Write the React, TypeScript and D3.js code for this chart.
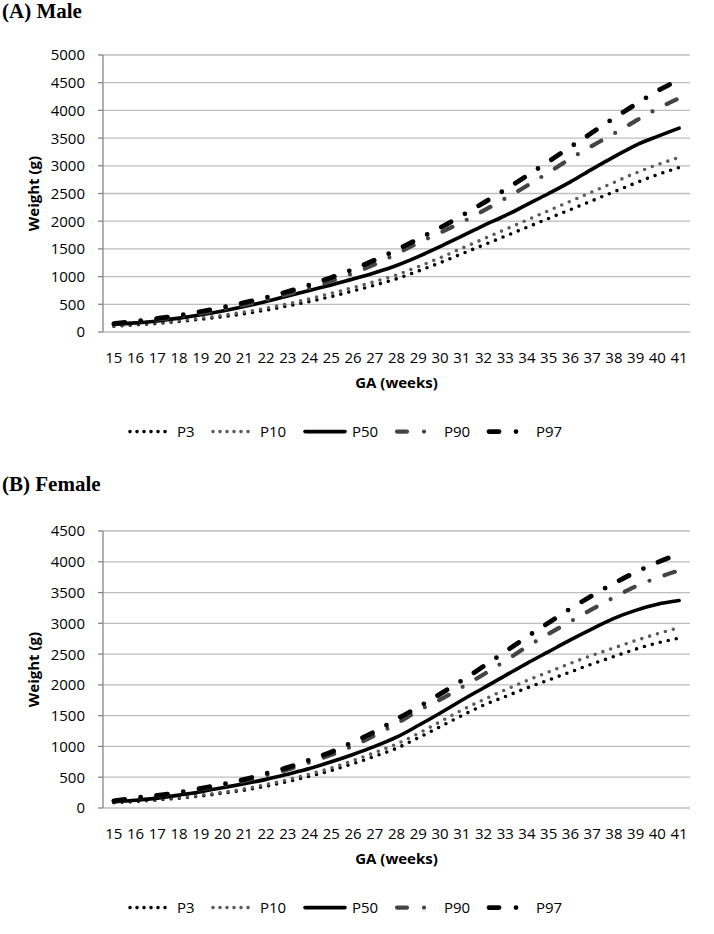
import React from 'react'
import { scalePoint, scaleLinear, line, curveMonotoneX } from 'd3'

// gestational age categories
const weeks = [15, 16, 17, 18, 19, 20, 21, 22, 23, 24, 25, 26, 27, 28, 29, 30, 31, 32, 33, 34, 35, 36, 37, 38, 39, 40, 41]

const maleTicks = [0, 500, 1000, 1500, 2000, 2500, 3000, 3500, 4000, 4500, 5000]
const femaleTicks = [0, 500, 1000, 1500, 2000, 2500, 3000, 3500, 4000, 4500]

const percentileNames = ['P3', 'P10', 'P50', 'P90', 'P97']

// (A) Male, weight in g
const maleP3 = [105, 130, 155, 190, 230, 275, 330, 395, 470, 550, 640, 740, 845, 960, 1100, 1250, 1410, 1570, 1730, 1890, 2050, 2210, 2370, 2530, 2690, 2840, 2970]
const maleP10 = [115, 140, 170, 205, 250, 300, 360, 430, 510, 600, 700, 800, 910, 1030, 1180, 1340, 1510, 1680, 1850, 2020, 2190, 2360, 2530, 2700, 2870, 3020, 3150]
const maleP50 = [140, 165, 200, 250, 310, 380, 460, 550, 650, 750, 850, 955, 1070, 1200, 1360, 1540, 1730, 1920, 2100, 2300, 2500, 2710, 2940, 3160, 3370, 3530, 3680]
const maleP90 = [140, 180, 225, 275, 340, 410, 490, 580, 680, 795, 920, 1060, 1220, 1410, 1610, 1790, 1980, 2190, 2410, 2640, 2880, 3130, 3360, 3580, 3810, 4030, 4220]
const maleP97 = [150, 195, 245, 300, 370, 445, 530, 625, 730, 850, 985, 1130, 1300, 1480, 1680, 1880, 2100, 2330, 2570, 2820, 3080, 3340, 3600, 3860, 4110, 4350, 4550]

// (B) Female, weight in g
const femaleP3 = [85, 105, 130, 160, 195, 240, 290, 355, 430, 515, 610, 720, 840, 970, 1140, 1320, 1500, 1670, 1810, 1950, 2080, 2210, 2340, 2460, 2580, 2680, 2760]
const femaleP10 = [95, 115, 140, 175, 210, 255, 310, 380, 460, 550, 650, 770, 900, 1040, 1210, 1400, 1590, 1760, 1920, 2070, 2210, 2350, 2480, 2600, 2720, 2830, 2930]
const femaleP50 = [100, 125, 160, 210, 265, 330, 395, 465, 550, 640, 750, 870, 1000, 1150, 1340, 1540, 1750, 1950, 2150, 2350, 2540, 2730, 2910, 3080, 3210, 3310, 3370]
const femaleP90 = [110, 155, 195, 245, 305, 365, 440, 530, 625, 740, 865, 1010, 1180, 1370, 1580, 1760, 1960, 2170, 2390, 2620, 2830, 3030, 3230, 3420, 3600, 3740, 3860]
const femaleP97 = [115, 165, 205, 255, 320, 385, 465, 560, 660, 780, 910, 1070, 1240, 1440, 1640, 1850, 2070, 2300, 2540, 2780, 3010, 3240, 3450, 3650, 3830, 3990, 4130]

const FONT = "'Open Sans', sans-serif"
const SERIF = "'Liberation Serif', 'Times New Roman', serif"

const lineStyles = {
  P3: { stroke: '#000', width: 3.6, dash: '0 8.2', legendDash: '0 7' },
  P10: { stroke: '#5c5c5c', width: 3.6, dash: '0 8.2', legendDash: '0 7' },
  P50: { stroke: '#000', width: 3.6, dash: undefined, legendDash: undefined },
  P90: { stroke: '#444', width: 4.2, dash: '11 16 0 16', legendDash: '10 17 0 13 0 60' },
  P97: { stroke: '#000', width: 4.8, dash: '11 16 0 16', legendDash: '10 17 0 13 0 60' },
}

const margin = { left: 103, right: 690 }
const plotHeight = 277

const Panel = ({ title, titleY, top, ticks, series }) => {
  const bottom = top + plotHeight
  const xScale = scalePoint().domain(weeks).range([margin.left, margin.right]).padding(0.5)
  const yScale = scaleLinear()
    .domain([0, ticks[ticks.length - 1]])
    .range([bottom, top])

  const lineGenerator = line()
    .x((d, i) => xScale(weeks[i]))
    .y(d => yScale(d))
    .curve(curveMonotoneX)

  // legend entries laid out left to right
  const sampleLen = 42
  const textW = { P3: 17, P10: 26, P50: 26, P90: 26, P97: 26 }
  let lx = 128
  const legendItems = percentileNames.map(name => {
    const item = { name, x: lx }
    lx += sampleLen + 7 + textW[name] + 17
    return item
  })
  const legendY = bottom + 105

  return (
    <g>
      <text x={2} y={titleY} fontFamily={SERIF} fontWeight='bold' fontSize={21}>{title}</text>

      {ticks.map(t => (
        <g key={t}>
          <line x1={margin.left} x2={margin.right} y1={yScale(t)} y2={yScale(t)} stroke='#bdbdbd' strokeWidth={1.3} />
          <line x1={margin.left - 5} x2={margin.left} y1={yScale(t)} y2={yScale(t)} stroke='#868686' strokeWidth={1.3} />
          <text x={85} y={yScale(t) + 5.4} textAnchor='end' fontFamily={FONT} fontSize={15}>{t}</text>
        </g>
      ))}
      <line x1={margin.left} x2={margin.left} y1={top} y2={bottom} stroke='#868686' strokeWidth={1.3} />

      {weeks.map(w => (
        <text key={w} x={xScale(w)} y={bottom + 31} textAnchor='middle' fontFamily={FONT} fontSize={15}>{w}</text>
      ))}

      <text x={(margin.left + margin.right) / 2} y={bottom + 56} textAnchor='middle' fontFamily={FONT} fontWeight='bold' fontSize={15}>GA (weeks)</text>
      <text transform={`translate(39,${(top + bottom) / 2}) rotate(-90)`} textAnchor='middle' fontFamily={FONT} fontWeight='bold' fontSize={15}>Weight (g)</text>

      {series.map(s => {
        const st = lineStyles[s.name]
        return (
          <path key={s.name} d={lineGenerator(s.values)} fill='none' stroke={st.stroke} strokeWidth={st.width}
            strokeDasharray={st.dash} strokeLinecap='round' strokeLinejoin='round' />
        )
      })}

      {legendItems.map(it => {
        const st = lineStyles[it.name]
        return (
          <g key={it.name}>
            <line x1={it.x + 2} x2={it.x + sampleLen} y1={legendY - 5.4} y2={legendY - 5.4} stroke={st.stroke}
              strokeWidth={st.width} strokeDasharray={st.legendDash} strokeLinecap='round' />
            <text x={it.x + sampleLen + 7} y={legendY} fontFamily={FONT} fontSize={15}>{it.name}</text>
          </g>
        )
      })}
    </g>
  )
}

const App = () => {
  const maleSeries = [
    { name: 'P3', values: maleP3 },
    { name: 'P10', values: maleP10 },
    { name: 'P50', values: maleP50 },
    { name: 'P90', values: maleP90 },
    { name: 'P97', values: maleP97 },
  ]
  const femaleSeries = [
    { name: 'P3', values: femaleP3 },
    { name: 'P10', values: femaleP10 },
    { name: 'P50', values: femaleP50 },
    { name: 'P90', values: femaleP90 },
    { name: 'P97', values: femaleP97 },
  ]
  return (
    <div style={{ position: 'absolute', left: 0, top: 0 }}>
      <svg width={714} height={934} style={{ display: 'block', background: '#fff' }}>
        <Panel title='(A) Male' titleY={17.5} top={55} ticks={maleTicks} series={maleSeries} />
        <Panel title='(B) Female' titleY={491} top={531} ticks={femaleTicks} series={femaleSeries} />
      </svg>
    </div>
  )
}

export default App
